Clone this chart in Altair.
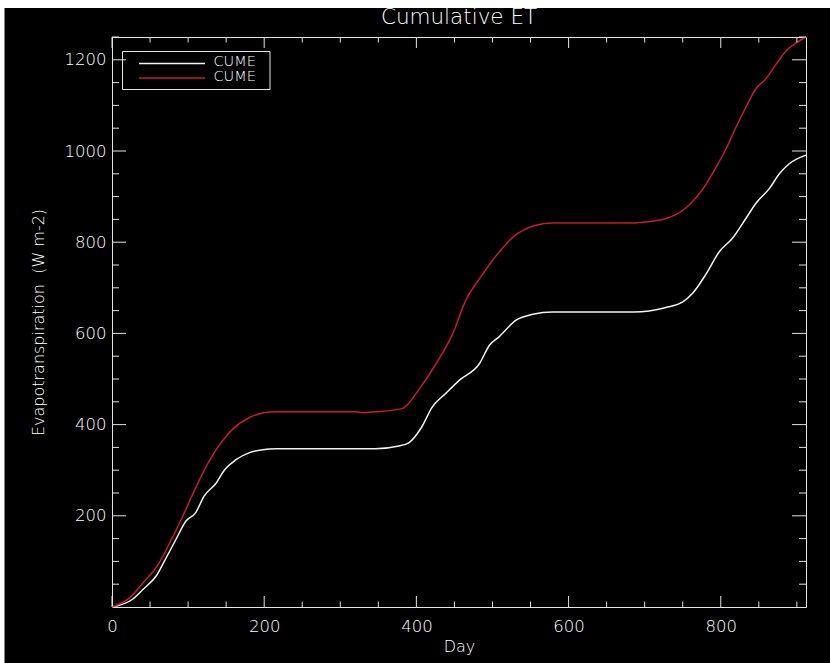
import altair as alt
import pandas as pd

# ---------------- data ----------------
day_white = [0, 27, 41, 58, 69, 84, 97, 110, 121, 137, 148, 163, 180, 198, 215, 346, 377, 390,
             406, 421, 439, 457, 483, 496, 509, 531, 553, 579, 685, 728, 750, 763, 781, 798,
             815, 833, 846, 864, 877, 890, 912]
et_white = [0, 17, 39, 68, 101, 148, 188, 207, 243, 272, 301, 323, 338, 345, 347, 347, 353, 360,
            392, 439, 469, 498, 534, 574, 593, 629, 642, 647, 647, 657, 669, 688, 731, 779,
            808, 852, 885, 918, 950, 972, 991]

day_red = [0, 23, 41, 62, 76, 91, 106, 124, 145, 158, 180, 200, 215, 320, 329, 346, 381, 390,
           400, 426, 448, 465, 483, 500, 527, 557, 579, 684, 693, 728, 754, 781, 794, 807,
           820, 833, 846, 859, 873, 886, 899, 912]
et_red = [0, 20, 53, 97, 141, 192, 247, 309, 364, 389, 415, 426, 428, 428, 426, 428, 435, 447,
          469, 534, 600, 673, 720, 760, 811, 837, 842, 842, 843, 852, 875, 928, 965, 1005,
          1052, 1096, 1136, 1158, 1191, 1220, 1237, 1250]

series_names = ["CUME", "CUME"]
series_colors = ["#f2f2f2", "#c81c26"]

x_labels = [0, 200, 400, 600, 800]
y_labels = [200, 400, 600, 800, 1000, 1200]
x_major = [0, 200, 400, 600, 800]
x_minor = [50, 100, 150, 250, 300, 350, 450, 500, 550, 650, 700, 750, 850, 900]
y_major = [200, 400, 600, 800, 1000, 1200]
y_minor = [50, 100, 150, 250, 300, 350, 450, 500, 550, 650, 700, 750, 850, 900, 950,
           1050, 1100, 1150, 1250]

# ---------------- layout / style ----------------
W, H = 694, 570
XMAX, YMAX = 912, 1250
AX = "#e4e4e4"
TXT = "#ffffff"
FONT = "DejaVu Sans"
FW = 200

xs = alt.Scale(domain=[0, XMAX], nice=False, zero=False)
ys = alt.Scale(domain=[0, YMAX], nice=False, zero=False)

df = pd.concat([
    pd.DataFrame({"day": day_white, "et": et_white, "s": 0}),
    pd.DataFrame({"day": day_red, "et": et_red, "s": 1}),
], ignore_index=True)
df["color"] = [series_colors[i] for i in df["s"]]

lines = alt.Chart(df).mark_line(strokeWidth=1.5, interpolate="monotone").encode(
    x=alt.X("day:Q", scale=xs, title="Day",
            axis=alt.Axis(values=x_labels, format="d", labelPadding=11, titlePadding=4)),
    y=alt.Y("et:Q", scale=ys, title="Evapotranspiration\u00a0\u00a0(W m-2)",
            axis=alt.Axis(values=y_labels, format="d", labelPadding=6, titlePadding=18)),
    color=alt.Color("color:N", scale=None),
    detail="s:N",
)


def ticks(vals, side, length):
    d = alt.Chart(pd.DataFrame({"v": vals})).mark_rule(color=AX, strokeWidth=1)
    if side == "bottom":
        return d.encode(x=alt.X("v:Q", scale=xs), y=alt.value(H), y2=alt.value(H - length))
    if side == "top":
        return d.encode(x=alt.X("v:Q", scale=xs), y=alt.value(0), y2=alt.value(length))
    if side == "left":
        return d.encode(y=alt.Y("v:Q", scale=ys), x=alt.value(0), x2=alt.value(length))
    return d.encode(y=alt.Y("v:Q", scale=ys), x=alt.value(W), x2=alt.value(W - length))


tick_layers = [
    ticks(x_major, "bottom", 11), ticks(x_minor, "bottom", 5.5),
    ticks(x_major, "top", 11), ticks(x_minor, "top", 5.5),
    ticks(y_major, "left", 14), ticks(y_minor, "left", 7),
    ticks(y_major, "right", 14), ticks(y_minor, "right", 7),
]

# legend (box, sample lines, labels) -- one row per series
one = alt.Data(values=[{}])
leg_layers = [alt.Chart(one).mark_rect(fillOpacity=0, stroke=AX, strokeWidth=1).encode(
    x=alt.value(10.5), x2=alt.value(158), y=alt.value(14.5), y2=alt.value(52.5))]
for i, (name, col) in enumerate(zip(series_names, series_colors)):
    leg_layers.append(alt.Chart(one).mark_rule(strokeWidth=1.5, color=col).encode(
        x=alt.value(27), x2=alt.value(93), y=alt.value(26.6 + 14.4 * i)))
    leg_layers.append(alt.Chart(one).mark_text(
        align="left", baseline="middle", font=FONT, fontSize=14.5, fontWeight=FW,
        color=TXT, text=name).encode(x=alt.value(101.5), y=alt.value(25.4 + 14.6 * i)))

# white strips along the top and left edges of the screenshot
strip_top = alt.Chart(one).mark_rect(color="white").encode(
    x=alt.value(-112), x2=alt.value(830 - 112), y=alt.value(-37), y2=alt.value(-29))
strip_left = alt.Chart(one).mark_rect(color="white").encode(
    x=alt.value(-112), x2=alt.value(-107.5), y=alt.value(-37), y2=alt.value(663 - 37))

chart = alt.layer(
    lines, *tick_layers, *leg_layers, strip_top, strip_left
).properties(
    width=W, height=H,
    title=alt.TitleParams("Cumulative ET", color=TXT, font=FONT, fontSize=21.5, fontWeight=FW,
                          anchor="middle", offset=-28, frame="group"),
    autosize=alt.AutoSizeParams(type="none"),
    padding={"left": 112, "top": 37, "right": 24, "bottom": 56},
    background="black",
).configure_view(
    stroke=AX, strokeWidth=1
).configure_axis(
    ticks=False, domain=False, grid=False, labelColor=TXT, labelFont=FONT,
    labelFontSize=16.5, labelFontWeight=FW, labelFlush=False, labelOverlap=False,
    titleColor=TXT, titleFont=FONT, titleFontSize=16, titleFontWeight=FW, zindex=1,
)

chart.save("out.html", embed_options={"renderer": "svg", "actions": False})
